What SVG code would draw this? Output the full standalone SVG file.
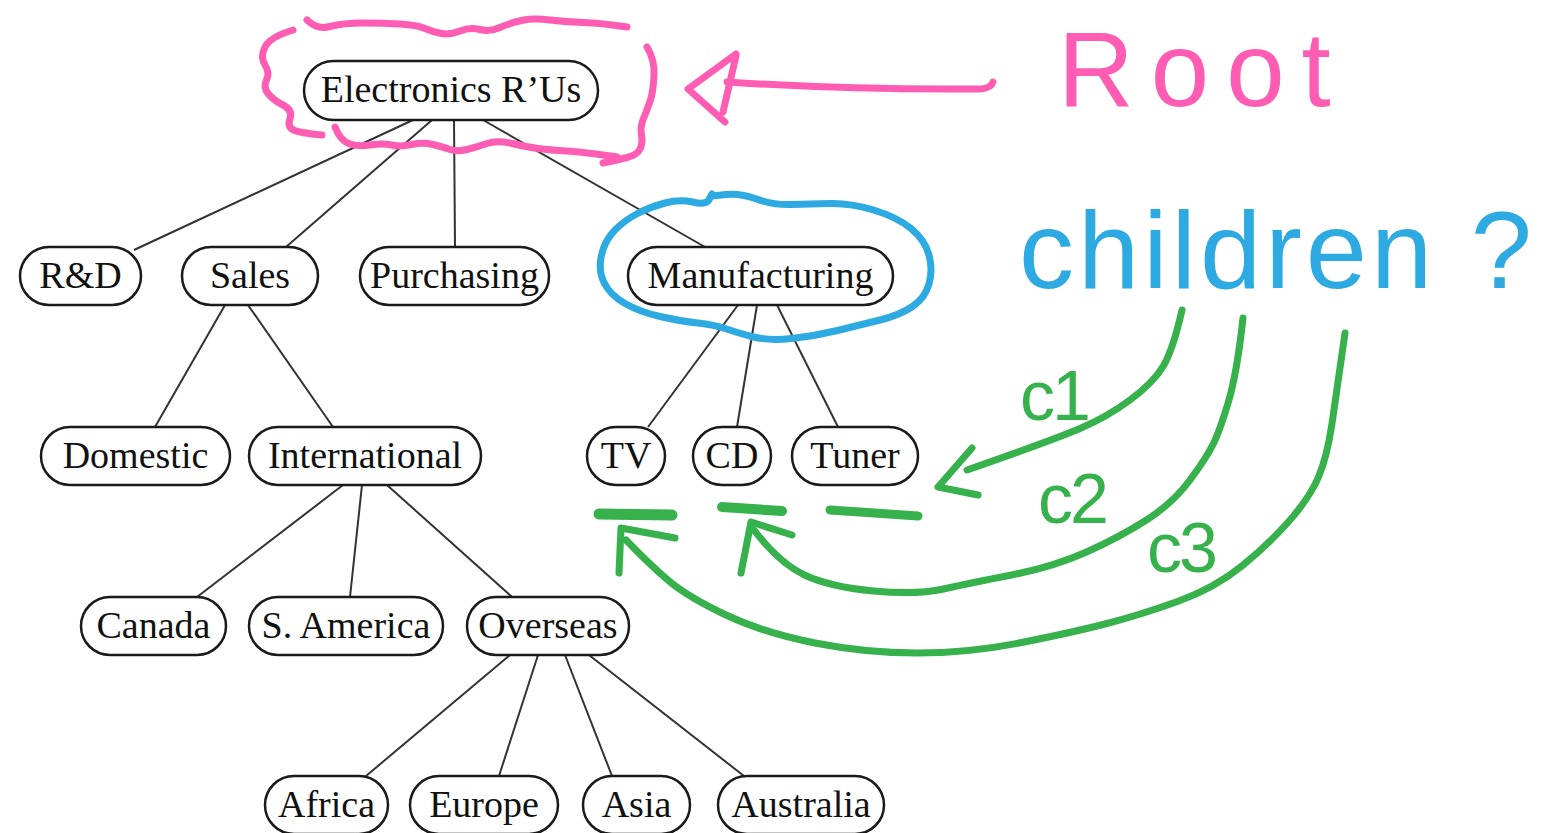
<svg xmlns="http://www.w3.org/2000/svg" width="1550" height="833" viewBox="0 0 1550 833">
  <style>
    .node rect { fill: #ffffff; stroke: #1a1a1a; stroke-width: 2.5; }
    .node text { font-family: "Liberation Serif", "Times New Roman", serif; font-size: 38px; fill: #111111; text-anchor: middle; }
    .edges line { stroke: #333333; stroke-width: 2; }
    .ink { fill: none; stroke-linecap: round; stroke-linejoin: round; }
    .pink { stroke: #ff5db4; stroke-width: 7; }
    .blue { stroke: #2eaae2; stroke-width: 7; }
    .green { stroke: #36b14c; stroke-width: 7; }
    .hand { font-family: "Liberation Sans", Arial, sans-serif; }
  </style>

  <!-- tree connectors -->
  <g id="connectors" class="edges">
    <line x1="413" y1="120" x2="134" y2="250"/>
    <line x1="432" y1="120" x2="286" y2="247"/>
    <line x1="454" y1="120" x2="455" y2="247"/>
    <line x1="483" y1="120" x2="705" y2="247"/>
    <line x1="225" y1="305" x2="155" y2="427"/>
    <line x1="248" y1="305" x2="333" y2="427"/>
    <line x1="738" y1="305" x2="648" y2="427"/>
    <line x1="757" y1="305" x2="737" y2="427"/>
    <line x1="777" y1="305" x2="838" y2="427"/>
    <line x1="343" y1="485" x2="197" y2="597"/>
    <line x1="362" y1="485" x2="350" y2="597"/>
    <line x1="387" y1="485" x2="512" y2="597"/>
    <line x1="510" y1="655" x2="366" y2="776"/>
    <line x1="538" y1="655" x2="499" y2="776"/>
    <line x1="565" y1="655" x2="612" y2="776"/>
    <line x1="589" y1="655" x2="744" y2="776"/>
  </g>

  <!-- tree nodes -->
  <g id="n-root" class="node"><rect x="304" y="61" width="294" height="59" rx="29.5"/><text x="451" y="102">Electronics R’Us</text></g>
  <g id="n-rd" class="node"><rect x="20" y="247" width="121" height="58" rx="29"/><text x="80.5" y="288">R&amp;D</text></g>
  <g id="n-sales" class="node"><rect x="182" y="247" width="136" height="58" rx="29"/><text x="250" y="288">Sales</text></g>
  <g id="n-purchasing" class="node"><rect x="360" y="247" width="189" height="58" rx="29"/><text x="454.5" y="288">Purchasing</text></g>
  <g id="n-manufacturing" class="node"><rect x="628" y="247" width="265" height="58" rx="29"/><text x="760.5" y="288">Manufacturing</text></g>
  <g id="n-domestic" class="node"><rect x="41" y="427" width="189" height="58" rx="29"/><text x="135.5" y="468">Domestic</text></g>
  <g id="n-international" class="node"><rect x="249" y="427" width="232" height="58" rx="29"/><text x="365" y="468">International</text></g>
  <g id="n-tv" class="node"><rect x="587" y="427" width="78" height="58" rx="29"/><text x="626" y="468">TV</text></g>
  <g id="n-cd" class="node"><rect x="693" y="427" width="78" height="58" rx="29"/><text x="732" y="468">CD</text></g>
  <g id="n-tuner" class="node"><rect x="792" y="427" width="126" height="58" rx="29"/><text x="855" y="468">Tuner</text></g>
  <g id="n-canada" class="node"><rect x="81" y="597" width="145" height="58" rx="29"/><text x="153.5" y="638">Canada</text></g>
  <g id="n-samerica" class="node"><rect x="249" y="597" width="194" height="58" rx="29"/><text x="346" y="638">S. America</text></g>
  <g id="n-overseas" class="node"><rect x="467" y="597" width="162" height="58" rx="29"/><text x="548" y="638">Overseas</text></g>
  <g id="n-africa" class="node"><rect x="265" y="776" width="123" height="58" rx="29"/><text x="326.5" y="817">Africa</text></g>
  <g id="n-europe" class="node"><rect x="410" y="776" width="148" height="58" rx="29"/><text x="484" y="817">Europe</text></g>
  <g id="n-asia" class="node"><rect x="583" y="776" width="107" height="58" rx="29"/><text x="636.5" y="817">Asia</text></g>
  <g id="n-australia" class="node"><rect x="718" y="776" width="166" height="58" rx="29"/><text x="801" y="817">Australia</text></g>

  <!-- pink markup: scribbled box around the root, arrow and label -->
  <g id="root-note" class="ink pink">
    <path d="M307,20 Q317,30 330,26.5 Q343,23 363,23 Q383,23 400,24 Q417,25 425,28.5 Q433,32 441.5,33.5 Q450,35 460,31 Q470,27 480,29.5 Q490,32 500,27.5 Q510,23 521.5,20.5 Q533,18 550,20 Q567,22 583.5,22.5 Q600,23 627,27"/>
    <path d="M293,30 Q270,37 265,47 Q260,57 265,65 Q270,73 266.5,80 Q263,87 268,93.5 Q273,100 283,105 Q293,110 290,118.5 Q287,127 293.5,130 Q300,133 322,135"/>
    <path d="M335,127 Q340,140 348.5,143.5 Q357,147 370,145 Q383,143 391.5,145 Q400,147 411.5,144.5 Q423,142 433,144.5 Q443,147 450,149.5 Q457,152 467,149.5 Q477,147 487,143.5 Q497,140 512,143.5 Q527,147 538.5,148.5 Q550,150 566.5,151 Q583,152 617,157"/>
    <path d="M647,47 Q655,60 654,76.5 Q653,93 650,101.5 Q647,110 643.5,118.5 Q640,127 641.5,135 Q643,143 640,149 Q637,155 627,157.5 Q617,160 603,163"/>
    <path d="M727,82 Q850,90 981,89 Q991,88 993,82"/>
    <path d="M736,54 L688,89 L725,122"/>
    <path d="M736,56 L723,112"/>
    <text class="hand" x="1058" y="106" font-size="105" letter-spacing="17" fill="#ff5db4" stroke="none">Root</text>
  </g>

  <!-- blue markup: loop around Manufacturing and label -->
  <g id="children-note" class="ink blue">
    <path d="M712,196 L726,194.5 Q740,193 756.5,199 Q773,205 791.5,204.5 Q810,204 830,203.5 Q850,203 873.5,210 Q897,217 911,228.5 Q925,240 929,255 Q933,270 929,284 Q925,298 912.5,306.5 Q900,315 880,320 Q860,325 837.5,330.5 Q815,336 791.5,338.5 Q768,341 751.5,336.5 Q735,332 725,328.5 Q715,325 697.5,323 Q680,321 660,316.5 Q640,312 625,303.5 Q610,295 604,282.5 Q598,270 601.5,255 Q605,240 615,230 Q625,220 637.5,213.5 Q650,207 665,203 Q680,199 692.5,202 Q705,205 708.5,200.5 L712,194"/>
    <text class="hand" x="1019" y="288" font-size="110" letter-spacing="4" fill="#2eaae2" stroke="none">children ?</text>
  </g>

  <!-- green markup: underlines and the three child arrows -->
  <g id="child-arrows" class="ink green">
    <path d="M599,514 L672,515" stroke-width="11"/>
    <path d="M722,507 L782,511" stroke-width="10"/>
    <path d="M830,510 L860,512 L918,516" stroke-width="9"/>

    <path d="M1182,310 Q1173,350 1163,366.5 Q1153,383 1130,400 Q1107,417 1080,428.5 Q1053,440 967,470"/>
    <path d="M972,448 L938,487 L978,495"/>

    <path d="M1243,318 Q1237,373 1228.5,401.5 Q1220,430 1213.5,443.5 Q1207,457 1190,480 Q1173,503 1146.5,520 Q1120,537 1086.5,552 Q1053,567 1011.5,575 Q970,583 943.5,589 Q917,595 873.5,591 Q830,587 804.5,575 Q779,563 754,530"/>
    <path d="M741,573 L751,522 L792,535"/>

    <path d="M1345,333 Q1337,390 1332,423.5 Q1327,457 1318.5,477 Q1310,497 1290,520 Q1270,543 1242.5,565.5 Q1215,588 1177.5,601.5 Q1140,615 1105,624 Q1070,633 1019,643 Q968,653 917,653 Q866,653 815,643 Q764,633 726,615 Q688,597 669,581 Q650,565 626,540"/>
    <path d="M619,573 L621,528 L675,538"/>

    <text class="hand" x="1020" y="420" font-size="70" letter-spacing="-3" fill="#36b14c" stroke="none">c1</text>
    <text class="hand" x="1038" y="523" font-size="70" letter-spacing="-3" fill="#36b14c" stroke="none">c2</text>
    <text class="hand" x="1147" y="572" font-size="70" letter-spacing="-3" fill="#36b14c" stroke="none">c3</text>
  </g>
</svg>
